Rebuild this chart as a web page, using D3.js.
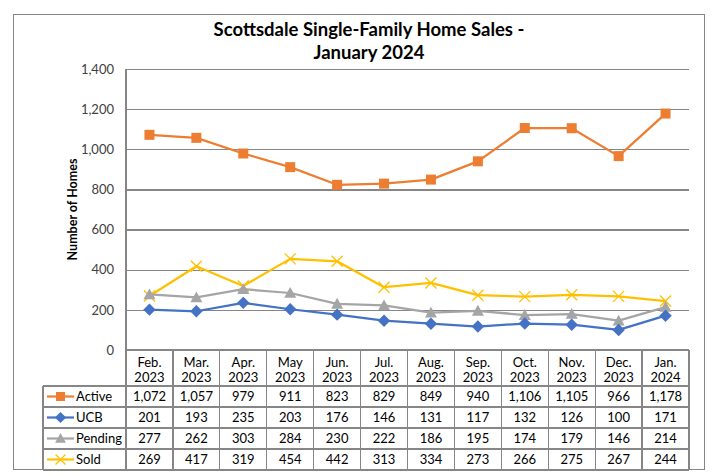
<!DOCTYPE html>
<html><head><meta charset="utf-8">
<script src="https://cdn.jsdelivr.net/npm/d3@7"></script>
<style>body{margin:0;background:#fff}svg{display:block}</style>
</head><body><svg id="c" width="714" height="476"></svg>
<script>
const months = ["Feb.","Mar.","Apr.","May","Jun.","Jul.","Aug.","Sep.","Oct.","Nov.","Dec.","Jan."];
const years = ["2023","2023","2023","2023","2023","2023","2023","2023","2023","2023","2023","2024"];
const active = [1072,1057,979,911,823,829,849,940,1106,1105,966,1178];
const ucb = [201,193,235,203,176,146,131,117,132,126,100,171];
const pending = [277,262,303,284,230,222,186,195,174,179,146,214];
const sold = [269,417,319,454,442,313,334,273,266,275,267,244];
const yTicks = [0,200,400,600,800,1000,1200,1400];

const series = [
  {name:"Active", values:active, color:"#ED7D31", marker:"square"},
  {name:"UCB", values:ucb, color:"#4472C4", marker:"diamond"},
  {name:"Pending", values:pending, color:"#A5A5A5", marker:"triangle"},
  {name:"Sold", values:sold, color:"#FFC000", marker:"x"}
];

const font = "Lato, 'Liberation Sans', sans-serif";
const svg = d3.select("#c");
const L = 126, R = 689, T = 69, B = 350;
const cats = months.map((m,i)=>m+" "+years[i]);
const x = d3.scaleBand().domain(cats).range([L,R]);
const y = d3.scaleLinear().domain([0,1400]).range([B,T]);
const grey = "#868686";

// outer border
svg.append("rect").attr("x",13.5).attr("y",14.5).attr("width",691).attr("height",455)
  .attr("fill","#fff").attr("stroke",grey).attr("stroke-width",1);

// title
const title = svg.append("text").attr("text-anchor","middle").attr("font-family",font)
  .attr("font-weight","bold").attr("font-size",18.5).attr("fill","#000");
title.append("tspan").attr("x",369).attr("y",36).text("Scottsdale Single-Family Home Sales -");
title.append("tspan").attr("x",369).attr("y",59).text("January 2024");

// gridlines
const yAxis = d3.axisLeft(y).tickValues(yTicks).tickSize(-(R-L)).tickFormat(d3.format(","));
const ga = svg.append("g").attr("transform",`translate(${L},0)`).call(yAxis);
ga.select(".domain").remove();
ga.selectAll(".tick line").attr("stroke",grey).attr("stroke-width",1.2)
  .attr("shape-rendering","crispEdges");
ga.selectAll(".tick text").attr("x",-12).attr("font-family",font).attr("font-size",13)
  .attr("fill","#404040");
ga.selectAll(".tick").filter(d=>d===0).select("line").remove();

// y axis title
svg.append("text").attr("transform",`translate(77,${(T+B)/2}) rotate(-90)`)
  .attr("text-anchor","middle").attr("font-family",font).attr("font-weight","bold")
  .attr("font-size",12.5).attr("fill","#000").text("Number of Homes");

// table
const rowTop = [350,386,407,428,449,470];
const tbl = svg.append("g").attr("stroke",grey).attr("stroke-width",1.2).attr("shape-rendering","crispEdges");
tbl.append("line").attr("x1",L).attr("x2",R).attr("y1",B).attr("y2",B);
rowTop.slice(1).forEach(yy=>{
  tbl.append("line").attr("x1",43).attr("x2",R).attr("y1",yy).attr("y2",yy);
});
tbl.append("line").attr("x1",L).attr("x2",L).attr("y1",T).attr("y2",470);
cats.forEach(c=>{
  const xr = x(c)+x.bandwidth();
  tbl.append("line").attr("x1",xr).attr("x2",xr).attr("y1",B).attr("y2",470);
});
tbl.append("line").attr("x1",43).attr("x2",43).attr("y1",386).attr("y2",470);

// header labels
const hdr = svg.append("g").attr("font-family",font).attr("font-size",13).attr("fill","#000").attr("text-anchor","middle");
cats.forEach((c,i)=>{
  const cx = x(c)+x.bandwidth()/2;
  hdr.append("text").attr("x",cx).attr("y",367).text(months[i]);
  hdr.append("text").attr("x",cx).attr("y",382).text(years[i]);
});

function marker(g, type, color, cx, cy, size) {
  if (type==="square") {
    g.append("rect").attr("x",cx-size/2).attr("y",cy-size/2).attr("width",size).attr("height",size).attr("fill",color);
  } else if (type==="diamond") {
    const s = size*0.62;
    g.append("path").attr("d",`M${cx},${cy-s}L${cx+s},${cy}L${cx},${cy+s}L${cx-s},${cy}Z`).attr("fill",color);
  } else if (type==="triangle") {
    const s = size*0.6;
    g.append("path").attr("d",`M${cx},${cy-s}L${cx+s},${cy+s*0.8}L${cx-s},${cy+s*0.8}Z`).attr("fill",color);
  } else {
    const s = size*0.55;
    g.append("path").attr("d",`M${cx-s},${cy-s}L${cx+s},${cy+s}M${cx-s},${cy+s}L${cx+s},${cy-s}`)
      .attr("stroke",color).attr("stroke-width",1.3).attr("fill","none");
  }
}

// rows
series.forEach((s,si)=>{
  const ty = rowTop[si+1];
  const cy = ty + 10.5;
  const lg = svg.append("g");
  lg.append("line").attr("x1",47).attr("x2",74).attr("y1",cy).attr("y2",cy)
    .attr("stroke",s.color).attr("stroke-width",2.2);
  marker(lg, s.marker, s.color, 60.5, cy, 9);
  lg.append("text").attr("x",76).attr("y",cy+4.5).attr("font-family",font).attr("font-size",13)
    .attr("fill","#000").text(s.name);
  s.values.forEach((v,i)=>{
    svg.append("text").attr("x",x(cats[i])+x.bandwidth()/2).attr("y",cy+4.5)
      .attr("text-anchor","middle").attr("font-family",font).attr("font-size",13)
      .attr("fill","#000").text(d3.format(",")(v));
  });
});

// lines
const line = d3.line().x((d,i)=>x(cats[i])+x.bandwidth()/2).y(d=>y(d));
[...series].reverse().forEach(s=>{
  svg.append("path").datum(s.values).attr("d",line).attr("fill","none")
    .attr("stroke",s.color).attr("stroke-width",2.25).attr("stroke-linejoin","round");
  const mg = svg.append("g");
  s.values.forEach((v,i)=>marker(mg, s.marker, s.color, x(cats[i])+x.bandwidth()/2, y(v), 10));
});
</script></body></html>
